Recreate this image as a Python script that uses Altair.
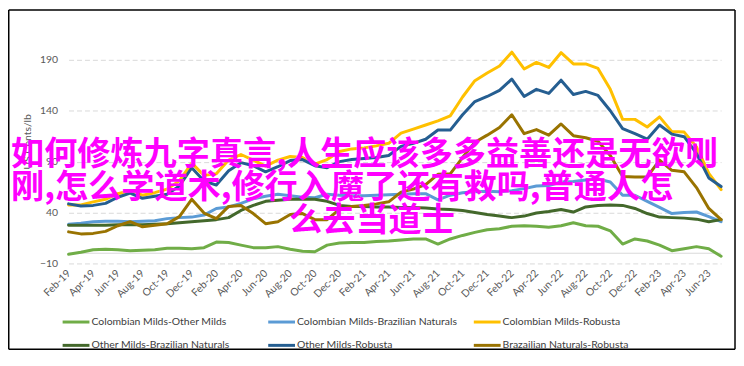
import altair as alt
import pandas as pd

months = [
    "Feb-19", "Mar-19", "Apr-19", "May-19", "Jun-19", "Jul-19", "Aug-19", "Sep-19", "Oct-19", "Nov-19", "Dec-19",
    "Jan-20", "Feb-20", "Mar-20", "Apr-20", "May-20", "Jun-20", "Jul-20", "Aug-20", "Sep-20", "Oct-20", "Nov-20", "Dec-20",
    "Jan-21", "Feb-21", "Mar-21", "Apr-21", "May-21", "Jun-21", "Jul-21", "Aug-21", "Sep-21", "Oct-21", "Nov-21", "Dec-21",
    "Jan-22", "Feb-22", "Mar-22", "Apr-22", "May-22", "Jun-22", "Jul-22", "Aug-22", "Sep-22", "Oct-22", "Nov-22", "Dec-22",
    "Jan-23", "Feb-23", "Mar-23", "Apr-23", "May-23", "Jun-23", "Jul-23",
]
tick_months = months[::2]

series_names = [
    "Colombian Milds-Other Milds",
    "Colombian Milds-Brazilian Naturals",
    "Colombian Milds-Robusta",
    "Other Milds-Brazilian Naturals",
    "Other Milds-Robusta",
    "Brazailian Naturals-Robusta",
]
series_colors = ["#70AD47", "#5B9BD5", "#FFC000", "#43682B", "#255E91", "#997300"]

col_other = [-1, 1, 3.5, 4, 3.5, 2.5, 3, 3.5, 5, 5,
             4.5, 5.5, 11, 10.5, 8, 5.5, 5.5, 6.5, 4, 2,
             1.5, 8, 10, 10.5, 10.5, 11.5, 12, 13, 14, 14,
             9, 14, 17.5, 20.5, 23, 24, 26.5, 27, 26.5, 25.5,
             27, 30, 27, 26.5, 22, 9, 14, 12, 8, 2.5,
             4.5, 6.5, 4.5, -3]
col_braz = [28.5, 29.5, 31, 31.5, 31.5, 31, 31.5, 32, 34, 35,
            35.5, 37.5, 44, 45.5, 49, 53.5, 56, 58, 56.5, 55,
            54.5, 58, 57, 56.5, 56.5, 57, 57.5, 58, 58.5, 58.5,
            52.5, 57, 59.5, 60.5, 61, 60.5, 61.5, 63.5, 66, 66.5,
            70, 70.5, 72, 73, 70, 57, 57, 51, 45, 39,
            40, 40.5, 36, 31]
col_rob = [47.5, 47.5, 50.5, 53, 58.5, 61.5, 57, 59.5, 63, 71,
           88.5, 76.5, 78, 91.5, 97, 91.5, 85.5, 91.5, 95, 94,
           87.5, 92, 100, 102.5, 103.5, 105.5, 108, 118, 122, 126,
           130, 135, 153.5, 169.5, 177, 184, 197.5, 181, 187.5, 182.5,
           197, 186, 186, 181.5, 161, 131.5, 131.5, 124, 134, 119.5,
           119, 104.5, 78.5, 62.5]
oth_braz = [27.5, 27.5, 27.5, 27.5, 28, 28, 28, 28.5, 29, 30,
            31, 32, 33, 35, 42, 47, 51, 52, 53, 53,
            53, 51, 47, 46, 46, 45.5, 45.5, 45, 45, 44.5,
            43.5, 43, 42, 40, 38, 36.5, 35, 36.5, 39.5, 41,
            43, 40.5, 45.5, 47, 47.5, 47, 44, 39, 35.5, 35,
            34.5, 33.5, 31, 33]
oth_rob = [48.5, 46.5, 47, 49, 55, 59, 54, 56, 58, 66,
           84, 71, 67, 81, 89, 86, 80, 85, 91, 92,
           86, 84, 90, 92, 93, 94, 96, 105, 108, 112,
           121, 121, 136, 149, 154, 160, 171, 154, 161, 157,
           170, 156, 159, 155, 140, 122.5, 117.5, 112, 126, 117,
           114.5, 98, 74, 65.5]
braz_rob = [21, 19, 19.5, 21.5, 27, 31, 26, 27.5, 29, 36,
            53, 39.5, 34, 46, 47, 39, 29, 31, 38, 39,
            33, 33, 43, 46, 47, 48.5, 50.5, 60, 63, 67.5,
            77.5, 78, 94, 109, 116, 123.5, 136, 117.5, 121.5, 116,
            127, 115.5, 113.5, 110, 96, 75.5, 75, 75, 91.5, 81.5,
            80, 64.5, 44, 33]

y_ticks = [-10, 40, 90, 140, 190]

overlay_lines = [
    "如何修炼九字真言,人生应该多多益善还是无欲则",
    "刚,怎么学道术,修行入魔了还有救吗,普通人怎",
    "么去当道士",
]

all_series = [col_other, col_braz, col_rob, oth_braz, oth_rob, braz_rob]
rows = []
for name, vals in zip(series_names, all_series):
    for m, v in zip(months, vals):
        rows.append({"month": m, "series": name, "value": v})
df = pd.DataFrame(rows)

FONT = "Lato"

lines = alt.Chart(df).mark_line(strokeWidth=3, strokeJoin="round", strokeCap="round").encode(
    x=alt.X("month:O", sort=months,
            scale=alt.Scale(type="point", padding=0),
            axis=alt.Axis(values=tick_months, labelAngle=-45, labelAlign="right",
                          labelBaseline="middle", labelPadding=8, ticks=False,
                          domain=False, grid=False, title=None, labelColor="#595959",
                          labelFontSize=10.5, labelFont=FONT, labelOverlap=False)),
    y=alt.Y("value:Q", scale=alt.Scale(domain=[-10, 190], nice=False, zero=False),
            axis=alt.Axis(values=y_ticks, grid=True, gridDash=[5, 3], gridColor="#D9D9D9",
                          gridWidth=1, domain=False, ticks=False, labelPadding=11,
                          labelColor="#595959", labelFontSize=10.5, labelFont=FONT,
                          title="US Cents/lb", titleFont=FONT, titleFontSize=10.5,
                          titleFontWeight="normal", titleColor="#595959",
                          titleX=-36, titleY=82)),
    color=alt.Color("series:N", sort=series_names,
                    scale=alt.Scale(domain=series_names, range=series_colors),
                    legend=alt.Legend(title=None, orient="none", legendX=1.5, legendY=258,
                                      direction="horizontal", columns=3,
                                      symbolType="M-3,0H3", symbolSize=81,
                                      symbolStrokeWidth=3, labelOffset=9.5,
                                      gridAlign="all", columnPadding=10, rowPadding=11.5,
                                      labelFont=FONT, labelFontSize=10.5,
                                      labelColor="#404040", labelLimit=300)),
)

zero = alt.Chart(pd.DataFrame({"z": [0]})).mark_rule(color="#D9D9D9", strokeWidth=1).encode(
    y="z:Q")

text_pos = [(-58, 96), (-58, 129), (222, 162)]
texts = []
for t, (px, py) in zip(overlay_lines, text_pos):
    texts.append(
        alt.Chart(pd.DataFrame({"t": [t]})).mark_text(
            align="left", baseline="middle", font="Noto Sans CJK SC", fontSize=33.4,
            fontWeight="bold", color="#FF00FF").encode(
            text="t:N", x=alt.value(px), y=alt.value(py)))

frame_df = pd.DataFrame({"f": [0]})
frame = [
    alt.Chart(frame_df).mark_rule(color="#000000", strokeWidth=1.5).encode(
        x=alt.value(-60.25), x2=alt.value(671), y=alt.value(-50.25)),
    alt.Chart(frame_df).mark_rule(color="#000000", strokeWidth=1.5).encode(
        x=alt.value(-60.25), x2=alt.value(671), y=alt.value(291.5)),
    alt.Chart(frame_df).mark_rule(color="#000000", strokeWidth=1.5).encode(
        x=alt.value(-60.25), y=alt.value(-50.25), y2=alt.value(291.5)),
    alt.Chart(frame_df).mark_rule(color="#000000", strokeWidth=1.5).encode(
        x=alt.value(671), y=alt.value(-50.25), y2=alt.value(291.5)),
]

chart = alt.layer(zero, lines, *texts, *frame).properties(
    width=657, height=205,
    padding={"left": 61, "top": 51, "right": 15, "bottom": 88},
    autosize=alt.AutoSizeParams(type="none"),
    background="white",
).configure_view(stroke=None)

chart.save("out.html", embed_options={"renderer": "svg", "actions": False})
